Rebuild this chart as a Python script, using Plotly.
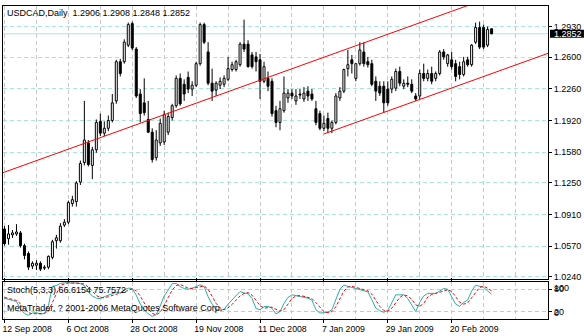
import plotly.graph_objects as go

# Daily USDCAD sessions, index 0 = 12 Sep 2008
open_ = [1.0755, 1.0650, 1.0692, 1.0702, 1.0713, 1.0576, 1.0492, 1.0356, 1.0366, 1.0387,
         1.0335, 1.0345, 1.0450, 1.0629, 1.0629, 1.0797, 1.0828, 1.1028, 1.1049, 1.1259,
         1.1469, 1.1680, 1.1438, 1.1606, 1.1911, 1.1785, 1.1837, 1.1921, 1.2131, 1.2552,
         1.2552, 1.2730, 1.2962, 1.2688, 1.2205, 1.2110, 1.1932, 1.1795, 1.1522, 1.1680,
         1.1690, 1.1795, 1.1953, 1.2079, 1.2373, 1.2310, 1.2384, 1.2258, 1.2300, 1.2531,
         1.2951, 1.2657, 1.2321, 1.2247, 1.2300, 1.2310, 1.2363, 1.2468, 1.2468, 1.2520,
         1.2741, 1.2741, 1.2625, 1.2604, 1.2573, 1.2342, 1.2373, 1.2342, 1.2026, 1.1900,
         1.2026, 1.2163, 1.2215, 1.2131, 1.2205, 1.2152, 1.2236, 1.2205, 1.2047, 1.1995,
         1.1837, 1.1942, 1.1837, 1.1900, 1.2163, 1.2236, 1.2478, 1.2573, 1.2373, 1.2531,
         1.2657, 1.2552, 1.2531, 1.2342, 1.2289, 1.2289, 1.2258, 1.2258, 1.2268, 1.2447,
         1.2289, 1.2321, 1.2310, 1.2184, 1.2184, 1.2426, 1.2373, 1.2426, 1.2373, 1.2426,
         1.2657, 1.2531, 1.2573, 1.2531, 1.2499, 1.2415, 1.2573, 1.2520, 1.2762, 1.2920,
         1.2920, 1.2730, 1.2906]
high = [1.0786, 1.0797, 1.0744, 1.0807, 1.0734, 1.0597, 1.0513, 1.0408, 1.0419, 1.0408,
        1.0366, 1.0471, 1.0639, 1.0692, 1.0818, 1.0860, 1.1060, 1.1112, 1.1270, 1.1490,
        1.2131, 1.1711, 1.1637, 1.1932, 1.1995, 1.1911, 1.1974, 1.2205, 1.2573, 1.2583,
        1.2793, 1.2972, 1.2983, 1.2709, 1.2258, 1.2373, 1.2131, 1.1837, 1.1816, 1.1942,
        1.2026, 1.2005, 1.2100, 1.2405, 1.2426, 1.2363, 1.2447, 1.2342, 1.2552, 1.2972,
        1.2972, 1.2762, 1.2478, 1.2342, 1.2384, 1.2405, 1.2604, 1.2552, 1.2573, 1.2762,
        1.3004, 1.2783, 1.2657, 1.2657, 1.2636, 1.2552, 1.2447, 1.2373, 1.2079, 1.2131,
        1.2394, 1.2258, 1.2258, 1.2258, 1.2258, 1.2279, 1.2289, 1.2258, 1.2131, 1.2026,
        1.1974, 1.2005, 1.1921, 1.2215, 1.2279, 1.2478, 1.2678, 1.2625, 1.2531, 1.2762,
        1.2762, 1.2604, 1.2573, 1.2394, 1.2342, 1.2342, 1.2342, 1.2394, 1.2478, 1.2499,
        1.2363, 1.2394, 1.2363, 1.2215, 1.2468, 1.2531, 1.2468, 1.2499, 1.2447, 1.2678,
        1.2688, 1.2636, 1.2657, 1.2573, 1.2552, 1.2604, 1.2604, 1.2741, 1.2972, 1.2983,
        1.2951, 1.2930, 1.2908]
low = [1.0576, 1.0587, 1.0660, 1.0681, 1.0555, 1.0429, 1.0314, 1.0324, 1.0314, 1.0303,
       1.0314, 1.0324, 1.0429, 1.0545, 1.0608, 1.0776, 1.0807, 1.0996, 1.0996, 1.1228,
       1.1438, 1.1427, 1.1291, 1.1574, 1.1753, 1.1753, 1.1806, 1.1900, 1.2100, 1.2394,
       1.2531, 1.2709, 1.2678, 1.2163, 1.1900, 1.1974, 1.1785, 1.1469, 1.1490, 1.1648,
       1.1658, 1.1764, 1.1921, 1.2058, 1.2079, 1.2131, 1.2215, 1.2184, 1.2279, 1.2510,
       1.2741, 1.2300, 1.2131, 1.2184, 1.2258, 1.2279, 1.2342, 1.2447, 1.2447, 1.2499,
       1.2657, 1.2489, 1.2478, 1.2447, 1.2152, 1.2321, 1.2236, 1.1963, 1.1848, 1.1816,
       1.2005, 1.2110, 1.2152, 1.2089, 1.2152, 1.2121, 1.2131, 1.2131, 1.1869, 1.1816,
       1.1806, 1.1785, 1.1785, 1.1879, 1.2131, 1.2215, 1.2394, 1.2426, 1.2342, 1.2510,
       1.2499, 1.2489, 1.2289, 1.2131, 1.2184, 1.2005, 1.2079, 1.2215, 1.2236, 1.2289,
       1.2258, 1.2279, 1.2215, 1.2131, 1.2152, 1.2342, 1.2342, 1.2310, 1.2342, 1.2405,
       1.2573, 1.2499, 1.2468, 1.2342, 1.2363, 1.2394, 1.2499, 1.2499, 1.2741, 1.2688,
       1.2688, 1.2709, 1.2848]
close = [1.0597, 1.0702, 1.0713, 1.0723, 1.0576, 1.0471, 1.0345, 1.0387, 1.0387, 1.0324,
         1.0345, 1.0461, 1.0618, 1.0660, 1.0786, 1.0828, 1.1039, 1.1070, 1.1249, 1.1459,
         1.1711, 1.1448, 1.1606, 1.1900, 1.1785, 1.1837, 1.1921, 1.2110, 1.2552, 1.2426,
         1.2762, 1.2951, 1.2699, 1.2184, 1.1995, 1.2005, 1.1795, 1.1501, 1.1711, 1.1890,
         1.1984, 1.1963, 1.2079, 1.2373, 1.2100, 1.2205, 1.2258, 1.2300, 1.2531, 1.2951,
         1.2762, 1.2321, 1.2236, 1.2321, 1.2342, 1.2373, 1.2478, 1.2520, 1.2552, 1.2741,
         1.2688, 1.2499, 1.2499, 1.2552, 1.2342, 1.2499, 1.2289, 1.1995, 1.1900, 1.2047,
         1.2215, 1.2215, 1.2184, 1.2184, 1.2194, 1.2215, 1.2184, 1.2152, 1.1900, 1.1837,
         1.1890, 1.1837, 1.1900, 1.2184, 1.2236, 1.2468, 1.2520, 1.2531, 1.2531, 1.2678,
         1.2531, 1.2520, 1.2310, 1.2236, 1.2215, 1.2110, 1.2110, 1.2363, 1.2447, 1.2321,
         1.2321, 1.2310, 1.2236, 1.2152, 1.2426, 1.2373, 1.2426, 1.2342, 1.2426, 1.2657,
         1.2604, 1.2625, 1.2499, 1.2394, 1.2415, 1.2552, 1.2520, 1.2730, 1.2920, 1.2709,
         1.2709, 1.2899, 1.2852]

# Stochastic(5,3,3): %K main line and %D signal line
stoch_k = [56, 52, 50, 47, 27, 15, 10, 16, 17, 13, 15, 36, 88, 90, 96, 97, 98, 96, 97, 95,
           90, 72, 62, 56, 55, 60, 64, 67, 72, 70, 78, 83, 82, 64, 40, 25, 14, 7, 12, 35,
           62, 78, 95, 96, 87, 82, 80, 83, 88, 92, 87, 60, 40, 25, 24, 26, 40, 51, 62, 74,
           70, 68, 55, 28, 25, 33, 34, 29, 14, 20, 42, 58, 65, 63, 62, 58, 56, 51, 25, 16,
           18, 18, 25, 55, 80, 91, 88, 84, 82, 80, 76, 73, 52, 29, 22, 18, 23, 45, 65, 65,
           65, 55, 38, 20, 45, 62, 69, 68, 69, 75, 82, 80, 60, 40, 34, 45, 51, 75, 91, 88,
           85, 75.6, 66.6154]
stoch_d = [58, 55, 53, 50, 41, 30, 17, 14, 14, 15, 15, 21, 46, 71, 91, 94, 97, 97, 97, 96,
           94, 86, 75, 63, 58, 57, 60, 64, 68, 70, 73, 77, 81, 76, 62, 43, 26, 15, 11, 18,
           36, 58, 78, 90, 93, 88, 83, 82, 84, 88, 89, 80, 62, 42, 30, 25, 30, 39, 51, 62,
           69, 71, 64, 50, 36, 29, 31, 32, 26, 21, 25, 40, 55, 62, 63, 61, 59, 55, 44, 31,
           20, 17, 20, 33, 53, 75, 86, 88, 85, 82, 79, 76, 67, 51, 34, 23, 21, 29, 44, 58,
           65, 62, 53, 38, 34, 42, 59, 66, 69, 71, 75, 79, 74, 60, 45, 40, 43, 57, 72, 85,
           88, 83, 75.7572]

# Labelled sessions on the time axis
date_ticks = [0, 16, 32, 48, 64, 80, 96, 112]
date_labels = ["12 Sep 2008", "6 Oct 2008", "28 Oct 2008", "19 Nov 2008",
               "11 Dec 2008", "7 Jan 2009", "29 Jan 2009", "20 Feb 2009"]
price_ticks = [1.0240, 1.0570, 1.0910, 1.1250, 1.1580, 1.1920, 1.2260, 1.2600, 1.2930]
stoch_levels = [20, 80]

# Trend lines, each given by two anchor points (session index, price)
trend_main_bars = [0, 110]
trend_main_prices = [1.1366, 1.3063]
trend_channel_bars = [80, 110]
trend_channel_prices = [1.1776, 1.2239]

symbol = "USDCAD,Daily"
stoch_name = "Stoch(5,3,3)"
copyright_text = "MetaTrader, ? 2001-2006 MetaQuotes Software Corp."

FONT = "Liberation Sans, Arial, sans-serif"
FS = 9
GRID_H = "#A9E4E4"
GRID_V = "#C8C8C8"
DASH = "4px,3px"

n = len(close)
idx = list(range(n))

fig = go.Figure()

# wicks, split around the body so white bodies stay clean
wx, wy = [], []
for i, o, h, l, c in zip(idx, open_, high, low, close):
    top, bot = max(o, c), min(o, c)
    wx += [i, i, None, i, i, None]
    wy += [h, top, None, bot, l, None]
fig.add_trace(go.Scatter(x=wx, y=wy, mode="lines", line=dict(color="black", width=1),
                         hoverinfo="skip", xaxis="x", yaxis="y"))

for rising, fill in ((True, "white"), (False, "black")):
    xs, base, size = [], [], []
    for i, o, c in zip(idx, open_, close):
        if (c >= o) == rising:
            xs.append(i)
            base.append(min(o, c))
            size.append(max(abs(c - o), 0.0003))
    fig.add_trace(go.Bar(x=xs, y=size, base=base, width=0.5,
                         marker=dict(color=fill, line=dict(color="black", width=1)),
                         hoverinfo="skip", xaxis="x", yaxis="y"))


def ray(bars, prices, start, end):
    slope = (prices[1] - prices[0]) / (bars[1] - bars[0])
    return [start, end], [prices[0] + slope * (start - bars[0]),
                          prices[0] + slope * (end - bars[0])]


for bars, prices, start in ((trend_main_bars, trend_main_prices, -2),
                            (trend_channel_bars, trend_channel_prices, trend_channel_bars[0])):
    tx, ty = ray(bars, prices, start, 150)
    fig.add_trace(go.Scatter(x=tx, y=ty, mode="lines", line=dict(color="#FF0000", width=1),
                             hoverinfo="skip", xaxis="x", yaxis="y"))

# oscillator pane
fig.add_trace(go.Scatter(x=idx, y=stoch_k, mode="lines",
                         line=dict(color="#20B2AA", width=1), hoverinfo="skip",
                         xaxis="x", yaxis="y2"))
fig.add_trace(go.Scatter(x=idx, y=stoch_d, mode="lines",
                         line=dict(color="#FF0000", width=1, dash="3px,2px"),
                         hoverinfo="skip", xaxis="x", yaxis="y2"))

last_o, last_h, last_l, last_c = open_[-1], high[-1], low[-1], close[-1]

plot_l, plot_w = 2, 546


def px_to_paper(px):
    return (px - plot_l) / plot_w


shapes = [
    # bid line
    dict(type="line", xref="paper", yref="y", x0=0, x1=1, y0=last_c, y1=last_c,
         line=dict(color=GRID_H, width=1), layer="below"),
    # price tag behind the last close
    dict(type="rect", xref="paper", yref="y", x0=px_to_paper(550), x1=px_to_paper(584),
         y0=last_c - 0.0043, y1=last_c + 0.0043, fillcolor="black",
         line=dict(width=0)),
]

annotations = [
    dict(xref="paper", yref="paper", x=px_to_paper(4), y=1 - (10.5 - 3) / 320,
         xanchor="left", yanchor="middle", showarrow=False,
         text=f"{symbol}  {last_o:.4f} {last_h:.4f} {last_l:.4f} {last_c:.4f}",
         font=dict(family=FONT, size=FS, color="black")),
    dict(xref="paper", yref="y", x=px_to_paper(553), y=last_c, xanchor="left",
         yanchor="middle", showarrow=False, text=f"{last_c:.4f}", borderpad=0,
         font=dict(family=FONT, size=FS, color="white")),
    dict(xref="paper", yref="paper", x=px_to_paper(4), y=1 - (293 - 3) / 320,
         xanchor="left", yanchor="middle", showarrow=False,
         text=f"{stoch_name} {stoch_k[-1]:.4f} {stoch_d[-1]:.4f}",
         font=dict(family=FONT, size=FS, color="black")),
    dict(xref="paper", yref="paper", x=px_to_paper(4), y=1 - (312 - 3) / 320,
         xanchor="left", yanchor="middle", showarrow=False, text=copyright_text,
         font=dict(family=FONT, size=FS, color="black")),
]
# oscillator scale: level marks and the pane limits share the same spot
for val, anchor in ((100, "top"), (80, "middle"), (20, "middle"), (0, "bottom")):
    annotations.append(dict(xref="paper", yref="y2", x=px_to_paper(553), y=val,
                            xanchor="left", yanchor=anchor, showarrow=False,
                            text=str(val), borderpad=0,
                            font=dict(family=FONT, size=FS, color="black")))

fig.update_layout(
    width=584, height=336,
    margin=dict(l=plot_l, r=36, t=3, b=13, pad=0),
    paper_bgcolor="white", plot_bgcolor="white",
    showlegend=False, barmode="overlay", bargap=0,
    font=dict(family=FONT, size=FS, color="black"),
    shapes=shapes, annotations=annotations,
    xaxis=dict(
        domain=[0, 1], anchor="y2", range=[-0.375, 136.125],
        tickmode="array", tickvals=date_ticks, ticktext=date_labels,
        ticks="outside", ticklen=3, tickcolor="black", ticklabelposition="outside right",
        ticklabelshift=-3, ticklabelstandoff=2,
        tickfont=dict(family=FONT, size=8.7, color="black"),
        showgrid=True, gridcolor=GRID_V, griddash=DASH, gridwidth=1,
        minor=dict(dtick=8, tick0=0, showgrid=True, gridcolor=GRID_V, griddash=DASH,
                   gridwidth=1, ticks=""),
        showline=True, linecolor="black", linewidth=1, mirror="all",
        zeroline=False, fixedrange=True,
    ),
    yaxis=dict(
        domain=[1 - 279 / 320, 1], side="right", range=[1.0219, 1.31507],
        tickmode="array", tickvals=price_ticks,
        ticktext=[f"{v:.4f}" for v in price_ticks],
        ticks="outside", ticklen=3, tickcolor="black",
        tickfont=dict(family=FONT, size=FS, color="black"),
        showgrid=True, gridcolor=GRID_H, griddash=DASH, gridwidth=1,
        showline=True, linecolor="black", linewidth=1, mirror=True,
        zeroline=False, fixedrange=True,
    ),
    yaxis2=dict(
        domain=[0, 1 - 282 / 320], side="right", range=[0, 100],
        tickmode="array", tickvals=stoch_levels, showticklabels=False,
        ticks="outside", ticklen=3, tickcolor="black",
        showgrid=True, gridcolor=GRID_V, griddash=DASH, gridwidth=1,
        showline=True, linecolor="black", linewidth=1, mirror=True,
        zeroline=False, fixedrange=True,
    ),
)

fig.write_html("out.html", config={"displayModeBar": False, "staticPlot": True})
